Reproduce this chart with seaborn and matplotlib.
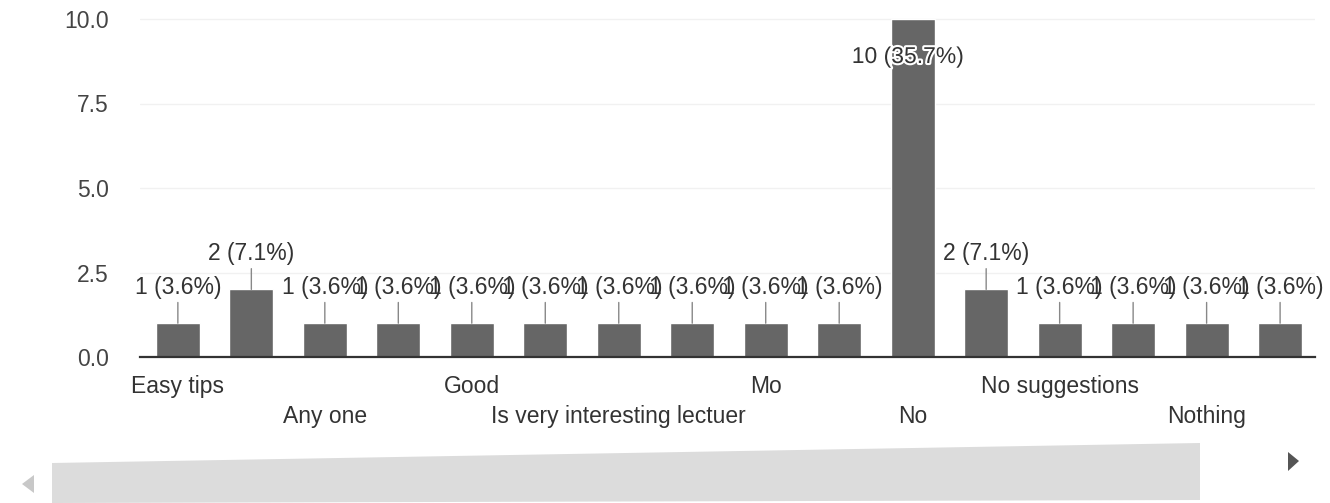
import numpy as np
import pandas as pd
import seaborn as sns
import matplotlib.pyplot as plt
import matplotlib.patheffects as pe
from matplotlib.patches import Polygon

# values (Google Forms style response chart)
responses = list(range(16))
counts = [1, 2, 1, 1, 1, 1, 1, 1, 1, 1, 10, 2, 1, 1, 1, 1]
percents = [3.6, 7.1, 3.6, 3.6, 3.6, 3.6, 3.6, 3.6, 3.6, 3.6, 35.7, 7.1, 3.6, 3.6, 3.6, 3.6]
# only every other answer gets a visible label, alternating between two rows
tick_labels = ['Easy tips', '', 'Any one', '', 'Good', '', 'Is very interesting lectuer', '',
               'Mo', '', 'No', '', 'No suggestions', '', 'Nothing', '']
label_row = [1, 0, 2, 0, 1, 0, 2, 0, 1, 0, 2, 0, 1, 0, 2, 0]
y_ticks = [0.0, 2.5, 5.0, 7.5, 10.0]

sns.set_style('white')
plt.rcParams['font.family'] = ['Liberation Sans', 'DejaVu Sans']

df = pd.DataFrame({'response': responses, 'count': counts})

W, H = 1330, 503
fig = plt.figure(figsize=(13.3, 5.03), dpi=100)
# baseline sits ~357px from the top, axes runs to the top edge
ax = fig.add_axes([0.105, (H - 357) / H, 0.884, 357 / H])

sns.barplot(data=df, x='response', y='count', color='#666666', saturation=1,
            width=0.6, ax=ax, zorder=2)

ax.set_xlim(-0.52, 15.48)
ax.set_ylim(0, 357 / 33.8)
ax.set_yticks(y_ticks)
ax.set_yticklabels([f'{t:.1f}' for t in y_ticks])
ax.yaxis.grid(True, color='#f1f1f1', linewidth=1, zorder=0)
ax.tick_params(axis='y', length=0, pad=22, labelsize=16.5, labelcolor='#444444')

shown = ['\n' + t if r == 2 else t for t, r in zip(tick_labels, label_row)]
ax.set_xticks(responses)
ax.set_xticklabels(shown, fontsize=16.5, color='#333333', va='top', linespacing=1.4)
ax.tick_params(axis='x', length=0, pad=13)
ax.set_xlabel('')
ax.set_ylabel('')

for side in ['left', 'right', 'top']:
    ax.spines[side].set_visible(False)
ax.spines['bottom'].set_color('#333333')
ax.spines['bottom'].set_linewidth(1.6)
ax.spines['bottom'].set_zorder(3)

# value labels with small leader lines, like the Google chart
for x, c, p in zip(responses, counts, percents):
    text = f'{c} ({p}%)'
    if c >= 10:
        ax.annotate(text, xy=(x, c), xytext=(-5, -26), textcoords='offset pixels',
                    ha='center', va='top', fontsize=16.5, color='#333333', zorder=4,
                    path_effects=[pe.withStroke(linewidth=3, foreground='white')])
    else:
        ax.annotate(text, xy=(x, c), xytext=(0, 24), textcoords='offset pixels',
                    ha='center', va='bottom', fontsize=16.5, color='#333333', zorder=4,
                    arrowprops=dict(arrowstyle='-', color='#888888', lw=1,
                                    shrinkA=0, shrinkB=0, relpos=(0.5, 0)))

# scrollbar strip underneath (slightly tilted like the scanned page)
def fpt(px, py):
    return (px / W, (H - py) / H)

fig.add_artist(Polygon([fpt(52, 463), fpt(1200, 443), fpt(1200, 500), fpt(52, 503)],
                       closed=True, transform=fig.transFigure,
                       facecolor='#dcdcdc', edgecolor='none'))
fig.add_artist(Polygon([fpt(34, 475), fpt(34, 493), fpt(22, 484)], closed=True,
                       transform=fig.transFigure, facecolor='#c8c8c8', edgecolor='none'))
fig.add_artist(Polygon([fpt(1288, 452), fpt(1288, 471), fpt(1299, 461)], closed=True,
                       transform=fig.transFigure, facecolor='#555555', edgecolor='none'))

fig.savefig('out.png', dpi=100, facecolor='white')
